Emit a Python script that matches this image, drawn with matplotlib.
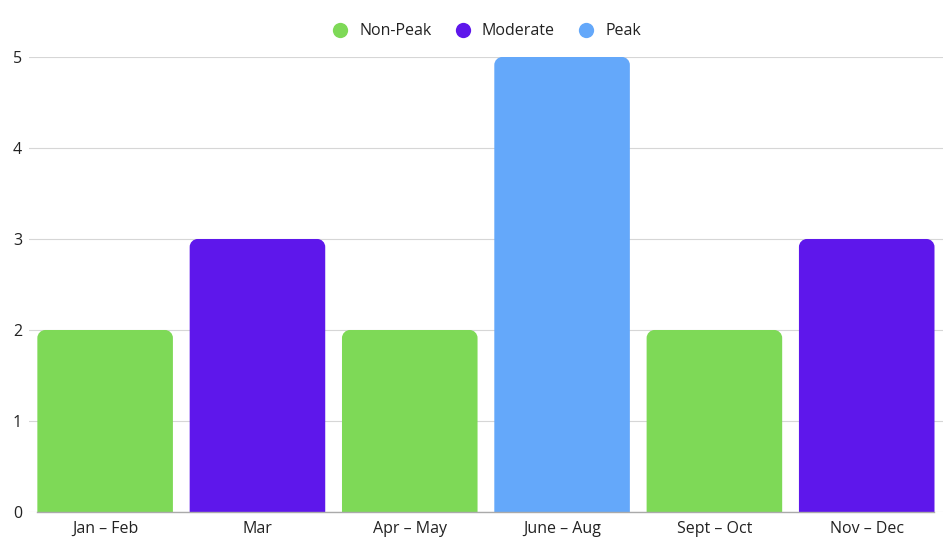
import matplotlib.pyplot as plt
from matplotlib.path import Path
from matplotlib.patches import PathPatch
from matplotlib.lines import Line2D

# Chart data
periods = ['Jan – Feb', 'Mar', 'Apr – May', 'June – Aug', 'Sept – Oct', 'Nov – Dec']
values = [2, 3, 2, 5, 2, 3]
seasons = ['Non-Peak', 'Moderate', 'Non-Peak', 'Peak', 'Non-Peak', 'Moderate']
season_names = ['Non-Peak', 'Moderate', 'Peak']
season_colors = {'Non-Peak': '#7ED957', 'Moderate': '#5E17EB', 'Peak': '#64A8FA'}

plt.rcParams['font.family'] = ['Open Sans', 'DejaVu Sans']

fig = plt.figure(figsize=(9.5, 5.5), dpi=100)
ax = fig.add_axes([0.0305, 0.0691, 0.962, 0.8273])

bar_w = 0.89
x = list(range(len(periods)))
ax.set_xlim(-0.5, len(periods) - 0.5)
ax.set_ylim(0, 5)

# pixel -> data scale for rounded corners
px_x = (len(periods)) / (0.962 * 950)
px_y = 5 / (0.8273 * 550)
r = 8
rx, ry = r * px_x, r * px_y


def rounded_top_bar(xc, h, w, color):
    x0, x1 = xc - w / 2, xc + w / 2
    k = 0.5523
    verts = [
        (x0, 0), (x0, h - ry),
        (x0, h - ry + k * ry), (x0 + rx - k * rx, h), (x0 + rx, h),
        (x1 - rx, h),
        (x1 - rx + k * rx, h), (x1, h - ry + k * ry), (x1, h - ry),
        (x1, 0), (x0, 0),
    ]
    codes = [Path.MOVETO, Path.LINETO,
             Path.CURVE4, Path.CURVE4, Path.CURVE4,
             Path.LINETO,
             Path.CURVE4, Path.CURVE4, Path.CURVE4,
             Path.LINETO, Path.CLOSEPOLY]
    ax.add_patch(PathPatch(Path(verts, codes), facecolor=color, edgecolor='none', zorder=3))


for xi, v, s in zip(x, values, seasons):
    rounded_top_bar(xi, v, bar_w, season_colors[s])

ax.set_yticks(range(0, 6))
ax.yaxis.grid(True, color='#d6d6d6', linewidth=0.8, zorder=0)
ax.set_axisbelow(True)
ax.set_xticks(x)
ax.set_xticklabels(periods)
ax.tick_params(axis='both', length=0, labelsize=11.5, colors='#222222')
ax.tick_params(axis='x', pad=6.5)
ax.tick_params(axis='y', pad=5)
for side in ['top', 'right', 'left']:
    ax.spines[side].set_visible(False)
ax.spines['bottom'].set_color('#aaaaaa')
ax.spines['bottom'].set_linewidth(1.0)
ax.spines['bottom'].set_zorder(4)
ax.spines['bottom'].set_bounds(-bar_w / 2, len(periods) - 1 + bar_w / 2)

handles = [Line2D([], [], marker='o', linestyle='none', markersize=11,
                  markerfacecolor=season_colors[n], markeredgecolor='none')
           for n in season_names]
fig.legend(handles, season_names, loc='center', bbox_to_anchor=(0.508, 0.943),
           ncol=3, frameon=False, fontsize=11.5, handletextpad=0.2, columnspacing=0.95,
           labelcolor='#222222')

fig.savefig('out.png', dpi=100)
